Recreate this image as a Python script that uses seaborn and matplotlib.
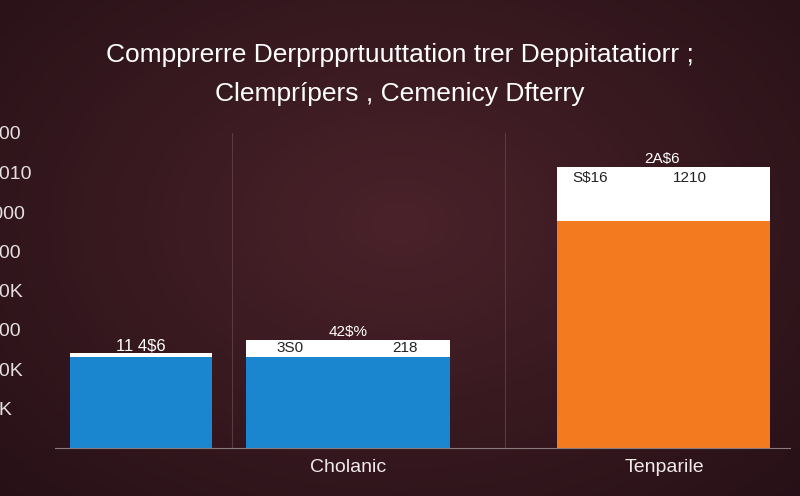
import numpy as np
import pandas as pd
import matplotlib
matplotlib.use("Agg")
import matplotlib.pyplot as plt
import seaborn as sns

plt.rcParams["font.family"] = "Liberation Sans"

categories = ["A", "Cholanic", "Tenparile"]
centers = [141, 348, 664]
widths = [142, 204, 213]
base_vals = [2.31, 2.31, 5.76]
cap_vals = [0.10, 0.43, 1.37]
colors = ["#1a86d0", "#1a86d0", "#f47a20"]
ytick_labels = ["0", "0K", "20K", "000", "50K", "000", ",000", "7010", "300"]
xtick_labels = ["", "Cholanic", "Tenparile"]

fig = plt.figure(figsize=(8, 4.96), dpi=100)
bg = fig.add_axes([0, 0, 1, 1])
yy, xx = np.mgrid[0:1:200j, 0:1:300j]
r = np.sqrt(((xx - 0.5) / 0.8) ** 2 + ((yy - 0.45) / 0.9) ** 2)
c0 = np.array([0x4a, 0x22, 0x2a]) / 255
c1 = np.array([0x22, 0x0e, 0x14]) / 255
img = c0[None, None, :] * (1 - r[..., None]) + c1[None, None, :] * r[..., None]
bg.imshow(np.clip(img, 0, 1), aspect="auto", extent=[0, 1, 0, 1])
bg.axis("off")

L, R, B, T = 55, 790, 448, 133
ax = fig.add_axes([L / 800, 1 - B / 496, (R - L) / 800, (B - T) / 496])
ax.patch.set_alpha(0)
df = pd.DataFrame({"x": centers, "base": base_vals, "top": np.add(base_vals, cap_vals), "cat": categories})
sns.barplot(data=df, x="x", y="top", native_scale=True, color="white", saturation=1, ax=ax, width=150)
sns.barplot(data=df, x="x", y="base", native_scale=True, hue="cat", palette=colors, saturation=1,
            legend=False, ax=ax, width=150)
for i, p in enumerate(ax.patches[:3]):
    p.set_width(widths[i]); p.set_x(centers[i] - widths[i] / 2)
for i, p in enumerate(ax.patches[3:6]):
    p.set_width(widths[i]); p.set_x(centers[i] - widths[i] / 2)
ax.set_xlim(L, R)
ax.set_ylim(0, 8)
ax.set_yticks(range(9))
ax.set_yticklabels(ytick_labels, color="#e6dfe0", fontsize=14)
ax.set_xticks(centers)
ax.set_xticklabels(xtick_labels, color="#f0eaea", fontsize=14)
ax.tick_params(axis="y", length=0, pad=14)
ax.tick_params(axis="x", length=0, pad=8)
for lab in ax.get_yticklabels():
    lab.set_horizontalalignment("left")
    lab.set_x(-0.065)
for s in ["top", "right", "left"]:
    ax.spines[s].set_visible(False)
ax.spines["bottom"].set_color("#8a7a7c")
for xv in [232, 505]:
    ax.axvline(xv, color="#5a3a40", lw=0.8, zorder=0)
ax.set_xlabel(""); ax.set_ylabel("")

kw = dict(color="#222222", fontsize=11, ha="center", va="center")
ax.text(141, 2.58, "11 4$6", color="white", fontsize=12, ha="center", va="center")
ax.text(290, 2.55, "3S0", **kw)
ax.text(405, 2.55, "218", **kw)
ax.text(348, 2.94, "42$%", color="white", fontsize=11, ha="center", va="center")
ax.text(590, 6.85, "S$16", **kw)
ax.text(690, 6.85, "1210", **kw)
ax.text(662, 7.35, "2A$6", color="white", fontsize=11, ha="center", va="center")

fig.text(0.5, 0.89, "Compprerre Derprpprtuuttation trer Deppitatatiorr ;", color="white",
         fontsize=19, ha="center", va="center")
fig.text(0.5, 0.81, "Clemprípers , Cemenicy Dfterry", color="white", fontsize=19, ha="center", va="center")
fig.savefig("out.png", dpi=100)
